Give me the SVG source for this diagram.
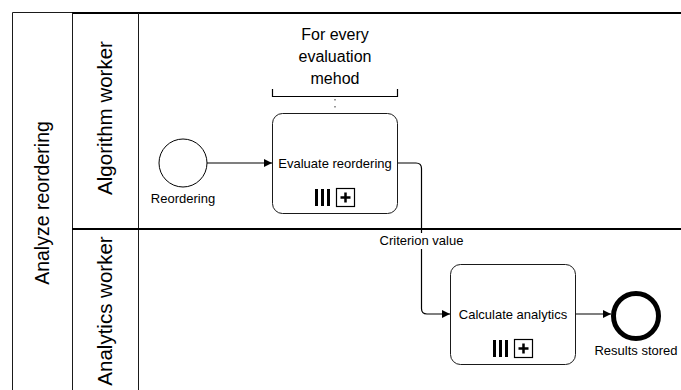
<svg xmlns="http://www.w3.org/2000/svg" width="681" height="390" viewBox="0 0 681 390">
  <style>
    text { font-family: "Liberation Sans", Arial, sans-serif; fill: #000; }
    .lane-label { font-size: 20.5px; text-anchor: middle; }
    .pool-label { font-size: 19.5px; text-anchor: middle; }
    .task-label { font-size: 13px; text-anchor: middle; }
    .event-label { font-size: 13px; text-anchor: middle; }
    .note { font-size: 16px; text-anchor: middle; }
    .task { fill: #fff; stroke: #1a1a1a; stroke-width: 1; }
    .flow { fill: none; stroke: #000; stroke-width: 1.2; }
    .pool-line { stroke: #1a1a1a; stroke-width: 1; fill: none; }
    .lane-line { stroke: #000; stroke-width: 2; fill: none; }
    .bar { fill: #000; }
    .sub-box { fill: #fff; stroke: #000; stroke-width: 1.2; }
    .plus { stroke: #000; stroke-width: 2.5; }
  </style>
  <defs>
    <marker id="arrow" viewBox="0 0 10 10" refX="10" refY="5" markerWidth="8" markerHeight="8" markerUnits="userSpaceOnUse" orient="auto">
      <path d="M0,0 L10,5 L0,10 z" fill="#000"/>
    </marker>
  </defs>

  <rect width="681" height="390" fill="#fff"/>

  <!-- pool and lanes -->
  <g id="pool">
    <path class="pool-line" d="M12.5,390 V12.5 H72"/>
    <path class="lane-line" d="M72,13 H681"/>
    <path class="pool-line" d="M72.5,13 V390"/>
    <path class="pool-line" d="M138.5,13 V390" stroke="#444"/>
    <path class="lane-line" d="M72,229 H681"/>
    <text class="pool-label" transform="translate(49,203) rotate(-90)">Analyze reordering</text>
  </g>
  <g id="lane-algorithm">
    <text class="lane-label" transform="translate(112,118) rotate(-90)">Algorithm worker</text>
  </g>
  <g id="lane-analytics">
    <text class="lane-label" transform="translate(112,311) rotate(-90)">Analytics worker</text>
  </g>

  <!-- connectors -->
  <g id="connectors">
    <path class="flow" d="M207,163 H272" marker-end="url(#arrow)"/>
    <path class="flow" d="M398,163 H416 Q421.5,163 421.5,168.5 V308.5 Q421.5,314 427,314 H450" marker-end="url(#arrow)"/>
    <path class="flow" d="M576,314 H611" marker-end="url(#arrow)"/>
    <path d="M335,99 V113" stroke="#777" stroke-width="1.5" stroke-dasharray="1.5 5.5" fill="none"/>
    <rect x="378" y="233" width="87" height="16" fill="#fff"/>
    <text class="task-label" x="421.5" y="245">Criterion value</text>
  </g>

  <!-- annotation -->
  <g id="annotation">
    <path d="M272.5,89 V96.5 H397.5 V89" fill="none" stroke="#000" stroke-width="1.2"/>
    <text class="note" x="335" y="40">For every</text>
    <text class="note" x="335" y="62">evaluation</text>
    <text class="note" x="335" y="84">mehod</text>
  </g>

  <!-- start event -->
  <g id="start-reordering">
    <circle cx="183" cy="163" r="24" fill="#fff" stroke="#000" stroke-width="1"/>
    <text class="event-label" x="183" y="203">Reordering</text>
  </g>

  <!-- multi-instance subprocess: evaluate -->
  <g id="task-evaluate">
    <rect class="task" x="272.5" y="113.5" width="125" height="100" rx="10"/>
    <text class="task-label" x="335" y="167.5">Evaluate reordering</text>
    <rect class="bar" x="315" y="189" width="3" height="17"/>
    <rect class="bar" x="321" y="189" width="3" height="17"/>
    <rect class="bar" x="327" y="189" width="3" height="17"/>
    <rect class="sub-box" x="336.5" y="188.5" width="18" height="18"/>
    <path class="plus" d="M345.5,192.5 V202.5 M340.5,197.5 H350.5"/>
  </g>

  <!-- multi-instance subprocess: analytics -->
  <g id="task-analytics">
    <rect class="task" x="450.5" y="264.5" width="125" height="100" rx="10"/>
    <text class="task-label" x="513" y="318.5">Calculate analytics</text>
    <rect class="bar" x="493" y="340" width="3" height="17"/>
    <rect class="bar" x="499" y="340" width="3" height="17"/>
    <rect class="bar" x="505" y="340" width="3" height="17"/>
    <rect class="sub-box" x="514.5" y="339.5" width="18" height="18"/>
    <path class="plus" d="M523.5,343.5 V353.5 M518.5,348.5 H528.5"/>
  </g>

  <!-- end event -->
  <g id="end-results">
    <circle cx="636" cy="316" r="22.5" fill="#fff" stroke="#000" stroke-width="5"/>
    <text class="event-label" x="636" y="355">Results stored</text>
  </g>
</svg>
